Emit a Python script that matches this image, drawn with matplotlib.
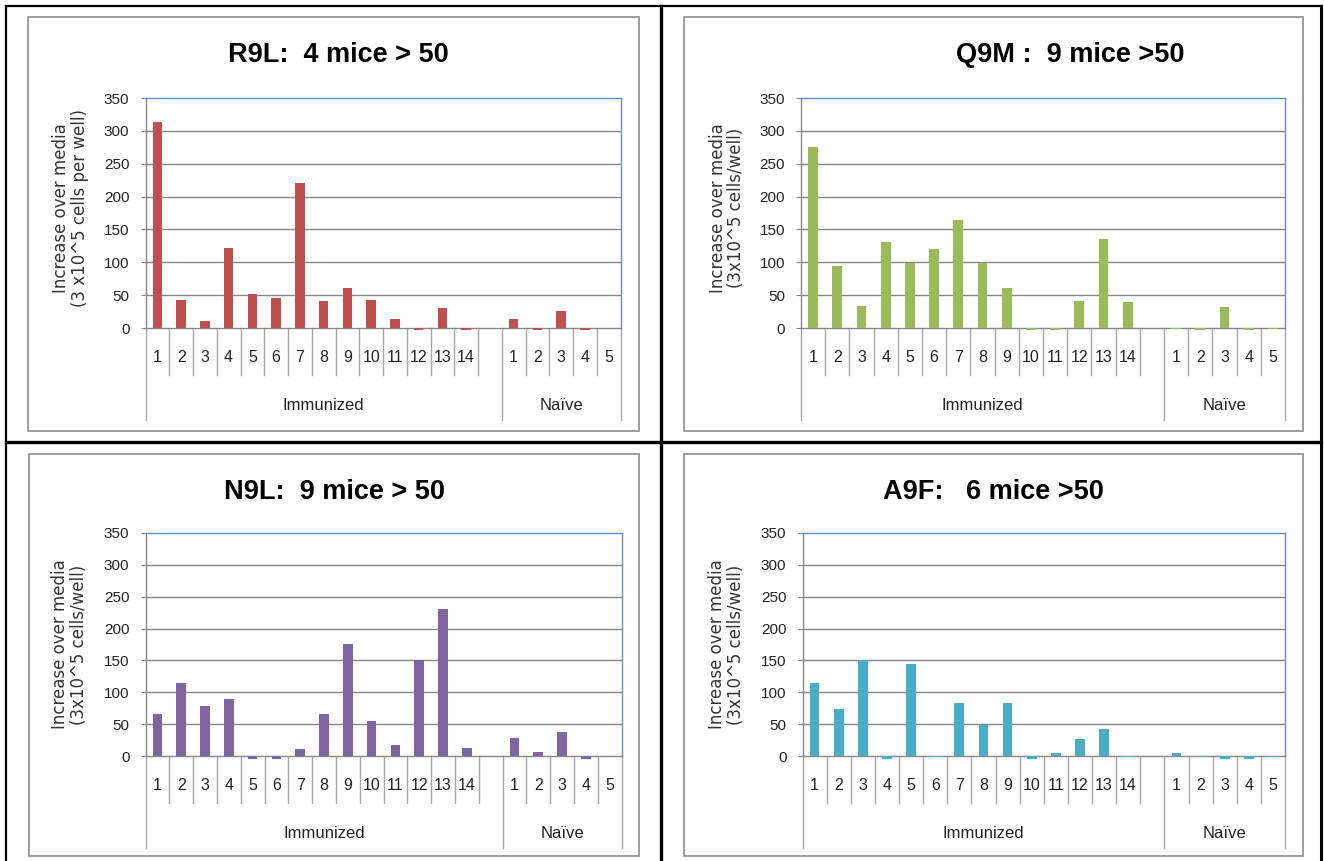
import matplotlib
matplotlib.use('Agg')
import matplotlib.pyplot as plt
from matplotlib.lines import Line2D
from matplotlib.patches import Rectangle
import numpy as np

# Values
immunized_labels = ['1', '2', '3', '4', '5', '6', '7', '8', '9', '10',
                    '11', '12', '13', '14']
naive_labels = ['1', '2', '3', '4', '5']
group_labels = ['Immunized', 'Naïve']

r9l_immunized = [314, 42, 10, 122, 51, 45, 220, 41, 61, 42, 14, -3, 31, -3]
r9l_naive = [13, -3, 26, -3, 0]
q9m_immunized = [276, 95, 34, 131, 99, 120, 164, 99, 61, -3, -3, 41, 135, 39]
q9m_naive = [-2, -3, 32, -3, -2]
n9l_immunized = [66, 114, 79, 90, -4, -4, 11, 66, 176, 55, 17, 151, 230, 13]
n9l_naive = [29, 7, 38, -4, 0]
a9f_immunized = [114, 74, 150, -4, 144, -2, 83, 48, 83, -4, 5, 26, 43, -2]
a9f_naive = [5, -2, -4, -4, -2]

titles = ['R9L:  4 mice > 50', 'Q9M :  9 mice >50',
          'N9L:  9 mice > 50', 'A9F:   6 mice >50']
ylabels = ['Increase over media\n(3 x10^5 cells per well)',
           'Increase over media\n(3x10^5 cells/well)',
           'Increase over media\n(3x10^5 cells/well)',
           'Increase over media\n(3x10^5 cells/well)']
colors = ['#C0504D', '#9BBB59', '#8064A2', '#4BACC6']

W, H = 1324, 861
FONT = ['Liberation Sans Narrow', 'Liberation Sans', 'DejaVu Sans']
GRID = '#868686'
DIV = '#A6A6A6'
TXT = '#222222'

fig = plt.figure(figsize=(W / 100, H / 100), dpi=100)
fig.patch.set_facecolor('white')


def fig_xy(x, y):
    return x / W, 1 - y / H


def draw_panel(imm, nai, color, title, ylabel, plot_box, title_xy,
               ylabel_xy, frame_box):
    x0, x1, ytop, yzero = plot_box
    ax = fig.add_axes([x0 / W, 1 - yzero / H, (x1 - x0) / W,
                       (yzero - ytop) / H])
    n_imm = len(imm)
    xs_imm = np.arange(n_imm)
    xs_nai = np.arange(len(nai)) + n_imm + 1
    ax.bar(xs_imm, imm, width=0.4, color=color, zorder=3, clip_on=False)
    ax.bar(xs_nai, nai, width=0.4, color=color, zorder=3, clip_on=False)
    ax.set_xlim(-0.5, n_imm + len(nai) + 0.5)
    ax.set_ylim(0, 350)
    ax.set_yticks(np.arange(0, 351, 50))
    ax.set_xticks([])
    for v in range(50, 301, 50):
        ax.axhline(v, color=GRID, lw=1, zorder=1)
    for s in ['left', 'bottom']:
        ax.spines[s].set_color(GRID)
    for s in ['top', 'right']:
        ax.spines[s].set_color('#5B8FD0')
    for s in ax.spines.values():
        s.set_linewidth(1)
        s.set_zorder(2)
    ax.tick_params(axis='y', direction='out', length=3.6, width=0.8,
                   color=GRID, pad=8, labelsize=11)
    for lab in ax.get_yticklabels():
        lab.set_family(FONT)
        lab.set_color(TXT)

    # multi-level category axis below the plot
    hpx = ax.bbox.height
    short = -47 / hpx
    tall = -92 / hpx
    tr = ax.get_xaxis_transform()
    short_x = [i + 0.5 for i in range(n_imm)] + \
        [n_imm + 1 + i + 0.5 for i in range(len(nai) - 1)]
    tall_x = [-0.5, n_imm + 0.5, n_imm + len(nai) + 0.5]
    for x in short_x:
        ax.add_line(Line2D([x, x], [0, short], transform=tr, color=DIV,
                           lw=1, clip_on=False))
    for x in tall_x:
        ax.add_line(Line2D([x, x], [0, tall], transform=tr, color=DIV,
                           lw=1, clip_on=False))
    for x, lab in zip(xs_imm, immunized_labels):
        ax.text(x, -30 / hpx, lab, transform=tr, ha='center', va='center',
                fontsize=11.5, family=FONT, color=TXT)
    for x, lab in zip(xs_nai, naive_labels):
        ax.text(x, -30 / hpx, lab, transform=tr, ha='center', va='center',
                fontsize=11.5, family=FONT, color=TXT)
    ax.text(n_imm / 2, -77 / hpx, group_labels[0], transform=tr,
            ha='center', va='center', fontsize=12, family=FONT, color=TXT)
    ax.text(n_imm + 1 + (len(nai) - 1) / 2, -77 / hpx, group_labels[1],
            transform=tr, ha='center', va='center', fontsize=12,
            family=FONT, color=TXT)

    tx, ty = fig_xy(*title_xy)
    fig.text(tx, ty, title, ha='center', va='center', fontsize=19.5,
             fontweight='bold', family=FONT)
    lx, ly = fig_xy(*ylabel_xy)
    fig.text(lx, ly, ylabel, rotation=90, ha='center', va='center',
             multialignment='center', fontsize=12, linespacing=1.05,
             color='#333333', family='DejaVu Sans')

    fx0, fy0, fx1, fy1 = frame_box
    fig.patches.append(Rectangle((fx0 / W, 1 - fy1 / H), (fx1 - fx0) / W,
                                 (fy1 - fy0) / H, transform=fig.transFigure,
                                 fill=False, edgecolor='#8C8C8C', lw=1.2))
    return ax


draw_panel(r9l_immunized, r9l_naive, colors[0], titles[0], ylabels[0],
           (145.5, 620.5, 98, 328), (338, 55), (70.5, 208),
           (27.5, 17.5, 639, 430.5))
draw_panel(q9m_immunized, q9m_naive, colors[1], titles[1], ylabels[1],
           (801, 1285, 98, 328), (1070, 55), (727, 208),
           (684, 17.5, 1303, 430.5))
draw_panel(n9l_immunized, n9l_naive, colors[2], titles[2], ylabels[2],
           (145.5, 621.5, 533, 756), (334, 492), (69.5, 644.5),
           (28.5, 454, 639, 856))
draw_panel(a9f_immunized, a9f_naive, colors[3], titles[3], ylabels[3],
           (802.5, 1285, 533, 756), (993, 492), (726.5, 644.5),
           (684, 454, 1303, 856))

# black outer borders of the quadrants
border = [((6, 6), (1321, 6), 1.6), ((6, 6), (6, 861), 1.6),
          ((1321, 6), (1321, 861), 2.2), ((660.5, 6), (660.5, 861), 2.4),
          ((6, 441.7), (1321, 441.7), 2.4)]
for (xa, ya), (xb, yb), lw in border:
    p0 = fig_xy(xa, ya)
    p1 = fig_xy(xb, yb)
    fig.add_artist(Line2D([p0[0], p1[0]], [p0[1], p1[1]],
                          transform=fig.transFigure, color='black', lw=lw))

plt.savefig('out.png', dpi=100, facecolor='white')
